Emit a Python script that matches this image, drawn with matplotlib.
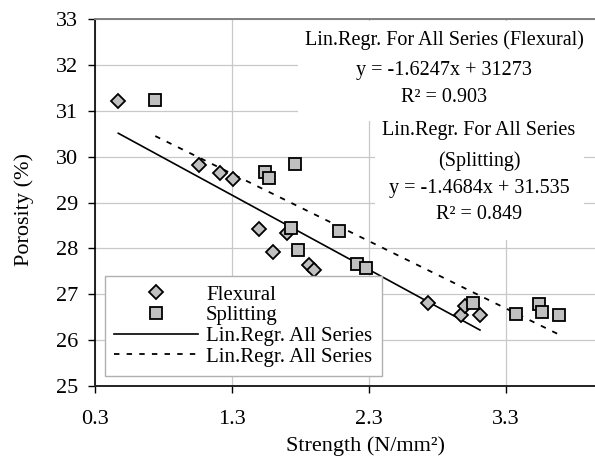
import matplotlib
matplotlib.use("Agg")
import matplotlib.pyplot as plt
from matplotlib.patches import Rectangle
import numpy as np

plt.rcParams['font.family'] = ['Liberation Serif', 'DejaVu Serif']

# Flexural strength vs porosity
flex_x = [0.47, 1.06, 1.21, 1.31, 1.50, 1.60, 1.70, 1.86, 1.90, 2.73, 2.97, 3.00, 3.11]
flex_y = [31.22, 29.82, 29.65, 29.51, 28.42, 27.93, 28.33, 27.64, 27.53, 26.81, 26.55, 26.75, 26.55]

# Splitting strength vs porosity
split_x = [0.74, 1.54, 1.57, 1.73, 1.76, 1.78, 2.08, 2.21, 2.28, 3.06, 3.37, 3.54, 3.56, 3.69]
split_y = [31.24, 29.67, 29.53, 28.44, 29.84, 27.97, 28.37, 27.66, 27.57, 26.82, 26.57, 26.79, 26.61, 26.55]

# Regression coefficients
flex_slope, flex_icept = -1.6247, 31.273
split_slope, split_icept = -1.4684, 31.535

x_ticks = [0.3, 1.3, 2.3, 3.3]
y_ticks = [25, 26, 27, 28, 29, 30, 31, 32, 33]

W, H = 595, 459
fig = plt.figure(figsize=(W / 100, H / 100), dpi=100)
ax = fig.add_axes([95 / W, (H - 386) / H, 548 / W, 367 / H])

ax.set_xlim(0.3, 4.3)
ax.set_ylim(25, 33)
ax.set_xticks(x_ticks)
ax.set_xticklabels([f"{t:.1f}" for t in x_ticks])
ax.set_yticks(y_ticks)

ax.grid(True, color='#c8c8c8', linewidth=0.9, zorder=0)
ax.set_axisbelow(True)

ax.spines['right'].set_visible(False)
ax.spines['top'].set_color('#808080')
ax.spines['top'].set_linewidth(1.4)
ax.spines['left'].set_color('black')
ax.spines['left'].set_linewidth(1.2)
ax.spines['bottom'].set_color('#222222')
ax.spines['bottom'].set_linewidth(1.4)

ax.tick_params(axis='both', direction='out', length=5, width=1,
               labelsize=16, colors='black')
ax.tick_params(axis='x', pad=12)
ax.tick_params(axis='y', pad=7)

# Regression line ranges follow each series' data
fx = np.array([min(flex_x), max(flex_x)])
sx = np.array([min(split_x), max(split_x)])

ax.plot(flex_x, flex_y, linestyle='none', marker='D', markersize=7,
        markerfacecolor='#c0c0c0', markeredgecolor='black', markeredgewidth=1.3,
        label='Flexural', zorder=4)
ax.plot(split_x, split_y, linestyle='none', marker='s', markersize=8,
        markerfacecolor='#c0c0c0', markeredgecolor='black', markeredgewidth=1.3,
        label='Splitting', zorder=4)
ax.plot(fx, flex_slope * fx + flex_icept, color='black', linewidth=1.2,
        label='Lin.Regr. All Series', zorder=3)
ax.plot(sx, split_slope * sx + split_icept, color='black', linewidth=1.3,
        linestyle=(0, (3, 4)), label='Lin.Regr. All Series', zorder=3)

ax.set_xlabel('Strength (N/mm²)', fontsize=16, va='center')
ax.xaxis.set_label_coords((366 - 95) / 548, (386 - 446) / 367)
ax.set_ylabel('Porosity (%)', fontsize=16, va='center')
ax.yaxis.set_label_coords((24 - 95) / 548, (386 - 210) / 367)

# White panels behind the equation texts
ax.add_patch(Rectangle((298, H - 121), 297, 100, transform=None,
                       facecolor='white', edgecolor='none', zorder=1))
ax.add_patch(Rectangle((375, H - 240), 209, 119, transform=None,
                       facecolor='white', edgecolor='none', zorder=1))

flex_lines = ['Lin.Regr. For All Series (Flexural)',
              f'y = {flex_slope}x + 31273',
              'R² = 0.903']
split_lines = ['Lin.Regr. For All Series', '(Splitting)',
               f'y = {split_slope}x + {split_icept}',
               'R² = 0.849']

for txt, yp in zip(flex_lines, [40, 70, 97]):
    fig.text(444 / W, 1 - yp / H, txt, ha='center', va='center', fontsize=14.5)
for txt, yp in zip(split_lines, [130, 161, 189, 215]):
    fig.text(479 / W, 1 - yp / H, txt, ha='center', va='center', fontsize=14.5)

leg = ax.legend(loc='lower left', bbox_to_anchor=((105 - 95) / 548, (386 - 376) / 367),
                fontsize=15, frameon=True, fancybox=False, framealpha=1,
                handlelength=4.0, handletextpad=0.4, labelspacing=0.05,
                borderpad=0.45, borderaxespad=0)
leg.get_frame().set_edgecolor('#b0b0b0')
leg.get_frame().set_linewidth(1.0)

fig.savefig('out.png', dpi=100)
